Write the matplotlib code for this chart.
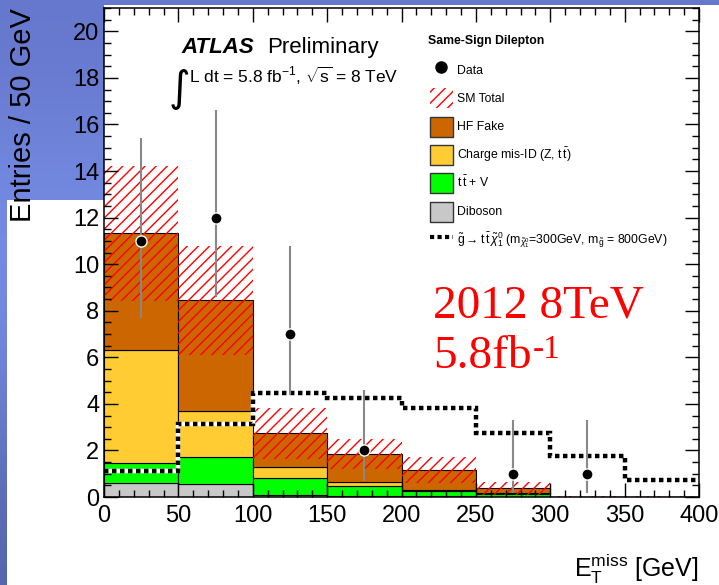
import numpy as np
import matplotlib
matplotlib.use("Agg")
import matplotlib.pyplot as plt
from matplotlib.patches import Patch, Polygon
from matplotlib.lines import Line2D
from matplotlib.ticker import MultipleLocator

plt.rcParams["font.family"] = ["Liberation Sans", "DejaVu Sans"]
plt.rcParams["mathtext.fontset"] = "custom"
plt.rcParams["mathtext.rm"] = "Liberation Sans"
plt.rcParams["mathtext.it"] = "Liberation Sans:italic"
plt.rcParams["mathtext.bf"] = "Liberation Sans:bold"
plt.rcParams["hatch.linewidth"] = 1.0

# MET binning (GeV)
bin_edges = [0, 50, 100, 150, 200, 250, 300, 350, 400]

# stacked backgrounds, bottom to top (entries / 50 GeV)
diboson = [0.60, 0.55, 0.08, 0.05, 0.03, 0.02, 0.0, 0.0]
ttv = [0.85, 1.15, 0.72, 0.42, 0.24, 0.12, 0.0, 0.0]
charge_misid = [4.87, 1.98, 0.48, 0.16, 0.05, 0.04, 0.0, 0.0]
hf_fake = [5.01, 4.76, 1.46, 1.22, 0.84, 0.19, 0.0, 0.0]
sm_err = [2.90, 2.35, 1.10, 0.63, 0.54, 0.29, 0.05, 0.05]

# gluino -> t tbar chi0 signal
signal = [1.10, 3.12, 4.46, 4.24, 3.83, 2.76, 1.78, 0.75]

# data with asymmetric poisson errors
data_x = [25, 75, 125, 175, 275, 325]
data_y = [11, 12, 7, 2, 1, 1]
data_err_lo = [3.3, 3.4, 2.6, 1.3, 0.83, 0.83]
data_err_hi = [4.4, 4.6, 3.8, 2.6, 2.3, 2.3]

W, H = 719, 585

edges = np.array(bin_edges, dtype=float)
lefts = edges[:-1]
widths = np.diff(edges)

fig = plt.figure(figsize=(W / 100, H / 100), dpi=100)

# slide background (blue) behind the pasted plot
bg = fig.add_axes([0, 0, 1, 1], zorder=-10)
bg.axis("off")
grad = np.array([[0.40, 0.47, 0.80], [0.47, 0.56, 0.91],
                 [0.44, 0.52, 0.86], [0.34, 0.40, 0.68]])
bg.imshow(grad[:, None, :], extent=[0, 1, 0, 1], aspect="auto",
          interpolation="bicubic")
bg.set_xlim(0, 1)
bg.set_ylim(0, 1)
white = [(7, 585), (7, 200), (104, 200), (104, 5), (719, 5), (719, 585)]
bg.add_patch(Polygon([(x / W, 1 - y / H) for x, y in white],
                     closed=True, facecolor="white", edgecolor="none"))

ax = fig.add_axes([104 / W, 1 - 497 / H, 595 / W, 489 / H])

# stacked backgrounds
colors = ["#c8c8c8", "#00ff00", "#ffcc33", "#cc6600"]
bottom = np.zeros(len(lefts))
for vals, col in zip([diboson, ttv, charge_misid, hf_fake], colors):
    ax.bar(lefts, vals, width=widths, bottom=bottom, align="edge",
           color=col, edgecolor="black", linewidth=0.8)
    bottom = bottom + np.array(vals)
total = bottom

# SM total uncertainty band
err = np.array(sm_err)
ax.bar(lefts, 2 * err, width=widths, bottom=total - err, align="edge",
       facecolor="none", edgecolor="red", linewidth=0, hatch="///")

# signal: black squares on white
ax.stairs(signal, edges, baseline=None, color="white", linewidth=3.2)
ax.stairs(signal, edges, baseline=None, color="black", linewidth=3.2,
          linestyle=(0, (1.0, 0.8)))

# data
ax.errorbar(data_x, data_y, yerr=[data_err_lo, data_err_hi], fmt="o",
            color="black", ecolor="#888888", elinewidth=1.5, capsize=0,
            markersize=8, markeredgecolor="white", markeredgewidth=1.0,
            zorder=5)

ax.set_xlim(0, 400)
ax.set_ylim(0, 21)
ax.set_xticks(range(0, 401, 50))
ax.xaxis.set_minor_locator(MultipleLocator(10))
ax.set_yticks(range(0, 21, 2))
ax.yaxis.set_minor_locator(MultipleLocator(0.5))
ax.tick_params(which="both", direction="in", top=True, right=True,
               labelsize=17, width=1.0)
ax.tick_params(which="major", length=10)
ax.tick_params(which="minor", length=5)
ax.tick_params(axis="x", pad=6)
for sp in ax.spines.values():
    sp.set_linewidth(1.1)

ax.set_ylabel("Entries / 50 GeV", fontsize=21, loc="top")
ax.yaxis.set_label_coords(-0.112, 1.0)
ax.set_xlabel(r"E$_{\mathrm{T}}^{\mathrm{miss}}$ [GeV]", fontsize=18, loc="right")
ax.xaxis.set_label_coords(1.0, -0.112)

# ATLAS label
ax.text(52.4, 19.08, "ATLAS", fontsize=16, fontweight="bold", style="italic")
ax.text(109.6, 19.08, "Preliminary", fontsize=16)
ax.text(51.0, 17.5, "\u222b", fontsize=30, va="center", ha="center",
        family="DejaVu Sans")
ax.text(57.0, 17.8, r"L dt = 5.8 fb$^{-1}$, $\sqrt{\mathrm{s}}$ = 8 TeV",
        fontsize=12.5)

# annotation
ax.text(221, 7.69, "2012 8TeV", color="red", fontsize=34,
        family="Liberation Serif")
base = ax.text(221, 5.54, "5.8fb", color="red", fontsize=34,
               family="Liberation Serif")
ax.annotate("-1", xy=(1, 1), xycoords=base, xytext=(1, 1),
            textcoords="offset points", ha="left", va="top", color="red",
            fontsize=24, family="Liberation Serif")

# legend: title as separate text so the spacing matches
ax.text(0.5445, 0.9325, "Same-Sign Dilepton", transform=ax.transAxes,
        fontsize=8.8, fontweight="bold", va="center", ha="left")

handles = [
    Line2D([], [], marker="o", color="black", linestyle="none", markersize=8),
    Patch(facecolor="white", edgecolor="red", hatch="///", linewidth=0),
    Patch(facecolor="#cc6600", edgecolor="#333333", linewidth=1.0),
    Patch(facecolor="#ffcc33", edgecolor="#333333", linewidth=1.0),
    Patch(facecolor="#00ff00", edgecolor="#333333", linewidth=1.0),
    Patch(facecolor="#c8c8c8", edgecolor="#333333", linewidth=1.0),
    Line2D([], [], color="black", linewidth=3.0, linestyle=(0, (1.0, 0.8))),
]
labels = [
    "Data",
    "SM Total",
    "HF Fake",
    r"Charge mis-ID (Z, t$\,\bar{\mathrm{t}}$)",
    r"t$\,\bar{\mathrm{t}}$ + V",
    "Diboson",
    r"$\tilde{\mathrm{g}}\rightarrow\mathrm{t}\,\bar{\mathrm{t}}\,\tilde{\chi}^{0}_{1}$"
    r" (m$_{\tilde{\chi}^{0}_{1}}$=300GeV, m$_{\tilde{\mathrm{g}}}$ = 800GeV)",
]
leg = ax.legend(handles, labels, fontsize=8.8, frameon=False,
                loc="upper left", bbox_to_anchor=(0.5479, 0.8937),
                borderpad=0, borderaxespad=0, handlelength=1.88,
                handleheight=2.14, handletextpad=0.33, labelspacing=0.68)

fig.savefig("out.png", dpi=100)
plt.close(fig)
